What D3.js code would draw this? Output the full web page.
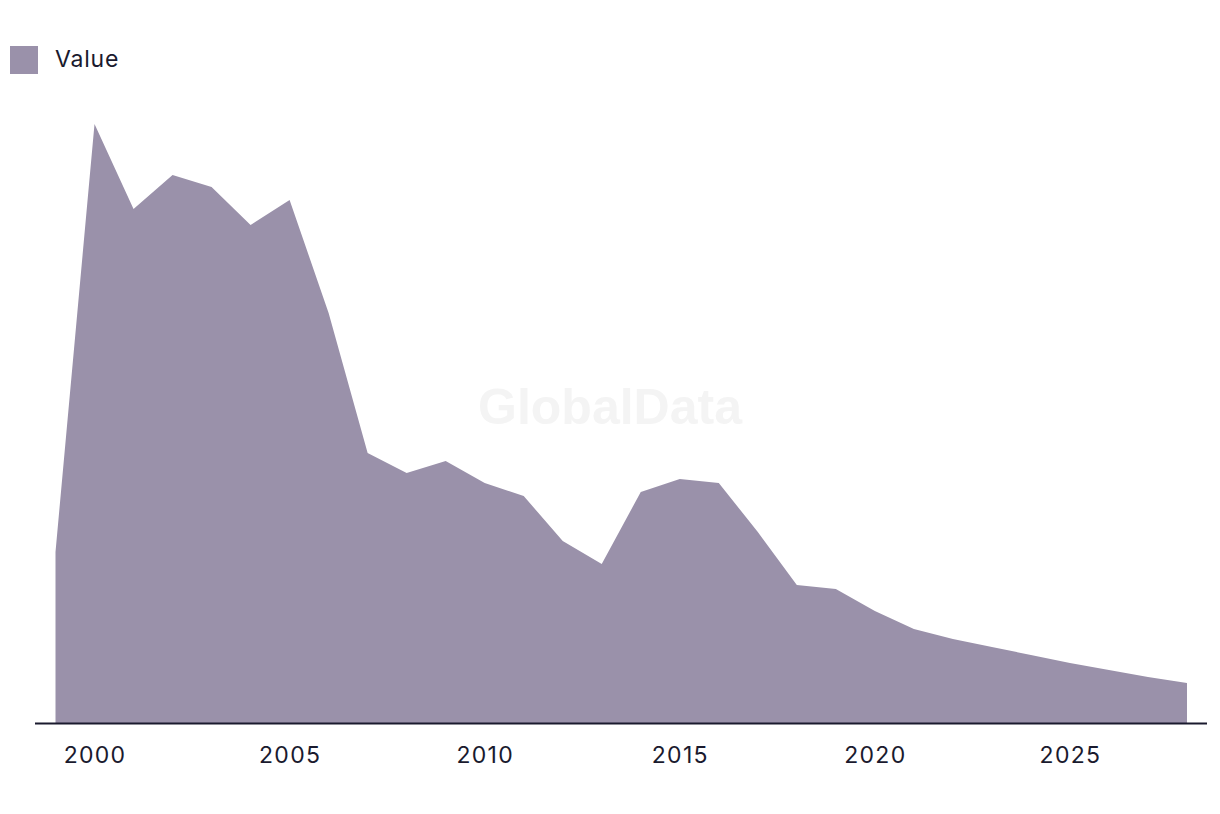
<!DOCTYPE html>
<html>
<head>
<meta charset="utf-8">
<script src="https://cdn.jsdelivr.net/npm/d3@7"></script>
<style>
  html, body { margin: 0; padding: 0; background: #fff; }
  svg { display: block; font-family: "Inter", "Liberation Sans", sans-serif; }
</style>
</head>
<body>
<svg id="chart" width="1220" height="814"></svg>
<script>
const years = [1999,2000,2001,2002,2003,2004,2005,2006,2007,2008,2009,2010,2011,2012,2013,2014,2015,2016,2017,2018,2019,2020,2021,2022,2023,2024,2025,2026,2027,2028];
const values = [171,599,514,548,536,498,523,410,270,250,262,240,227,182,159,231,244,240,191,138,134,112,94,84,76,68,60,53,46,40];
const tickYears = [2000,2005,2010,2015,2020,2025];
const seriesName = "Value";

const svg = d3.select("#chart");
const fill = "#9a91aa";
const ink = "#1a1a2e";

const x = d3.scaleLinear().domain([1999, 2028]).range([55.5, 1187]);
const y = d3.scaleLinear().domain([0, 599]).range([723, 124]);

// watermark
svg.append("text")
  .attr("x", 610).attr("y", 424)
  .attr("text-anchor", "middle")
  .attr("font-family", "Liberation Sans, Arial, sans-serif")
  .attr("font-weight", "bold")
  .attr("font-size", 50)
  .attr("fill", "#f4f4f4")
  .text("GlobalData");

const data = years.map((yr, i) => ({ yr, v: values[i] }));
const area = d3.area().x(d => x(d.yr)).y0(y(0)).y1(d => y(d.v));
svg.append("path").datum(data).attr("d", area).attr("fill", fill);

// axis
const axis = d3.axisBottom(x).tickValues(tickYears).tickFormat(d3.format("d")).tickSize(0).tickPadding(24);
const g = svg.append("g").attr("transform", `translate(0,${y(0)})`).call(axis);
g.select(".domain").remove();
g.append("line").attr("x1", 35).attr("x2", 1207).attr("y1", 0.5).attr("y2", 0.5)
  .attr("stroke", ink).attr("stroke-width", 2);
g.selectAll(".tick text").attr("font-size", 23).attr("fill", ink)
  .attr("letter-spacing", 1.3)
  .attr("font-family", "Inter, Liberation Sans, sans-serif");

// legend
svg.append("rect").attr("x", 10).attr("y", 46).attr("width", 28).attr("height", 28).attr("fill", fill);
svg.append("text").attr("x", 55).attr("y", 67).attr("font-size", 23).attr("letter-spacing", 0.8)
  .attr("fill", ink).text(seriesName);
</script>
</body>
</html>
